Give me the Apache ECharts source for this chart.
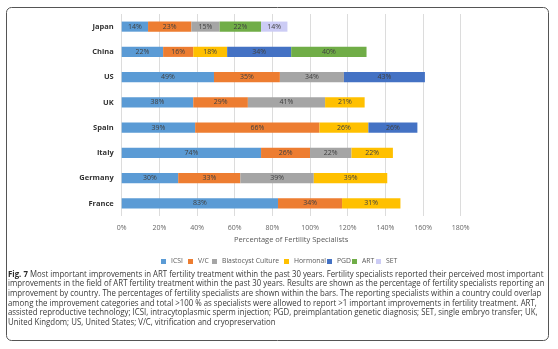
<!DOCTYPE html>
<html><head><meta charset="utf-8">
<script src="https://cdn.jsdelivr.net/npm/echarts@6/dist/echarts.min.js"></script>
<style>html,body{margin:0;padding:0;background:#fff}#c{width:558px;height:349px}</style>
</head><body><div id="c"></div>
<script>
const countries = ['France','Germany','Italy','Spain','UK','US','China','Japan'];
const seriesNames = ['ICSI','V/C','Blastocyst Culture','Hormonal','PGD','ART','SET'];
const icsi      = [83, 30, 74, 39, 38, 49, 22, 14];
const vc        = [34, 33, 26, 66, 29, 35, 16, 23];
const blasto    = [null, 39, 22, null, 41, 34, null, 15];
const hormonal  = [31, 39, 22, 26, 21, null, 18, null];
const pgd       = [null, null, null, 26, null, 43, 34, null];
const art       = [null, null, null, null, null, null, 40, 22];
const set       = [null, null, null, null, null, null, null, 14];
const xTicks = [0, 20, 40, 60, 80, 100, 120, 140, 160, 180];
const captionLines = [
 'improvements in the field of ART fertility treatment within the past 30 years. Results are shown as the percentage of fertility specialists reporting an',
 'improvement by country. The percentages of fertility specialists are shown within the bars. The reporting specialists within a country could overlap',
 'among the improvement categories and total >100 % as specialists were allowed to report >1 important improvements in fertility treatment. ART,',
 'assisted reproductive technology; ICSI, intracytoplasmic sperm injection; PGD, preimplantation genetic diagnosis; SET, single embryo transfer; UK,',
 'United Kingdom; US, United States; V/C, vitrification and cryopreservation'
];
const captionFirst = ' Most important improvements in ART fertility treatment within the past 30 years. Fertility specialists reported their perceived most important';

const colors = ['#5B9BD5','#ED7D31','#A5A5A5','#FFC000','#4472C4','#70AD47','#CCCCF5'];
const dataArr = [icsi, vc, blasto, hormonal, pgd, art, set];
const font = 'Open Sans';

const chart = echarts.init(document.getElementById('c'), null, {renderer:'canvas'});
const series = seriesNames.map((n,i)=>({
  name:n, type:'bar', stack:'t', barWidth:'40%',
  itemStyle:{color:colors[i]},
  label:{show:true, position:'inside', fontSize:7, fontFamily:font, color:'#404040',
    formatter:p=>p.value==null?'':p.value+'%'},
  data:dataArr[i]
}));
const capY0 = 274.5;
const lh = 9.6;
const sx = 0.957;
const graphic = [
  {type:'rect', shape:{x:6.5,y:7.5,width:542,height:333,r:5}, style:{fill:'none',stroke:'#555',lineWidth:1}, z:-1},
  {type:'text', x:8, y:capY0, scaleX:sx, style:{text:'{b|Fig. 7}'+captionFirst, font:'8.2px "'+font+'"', fill:'#3a3a3a', verticalAlign:'middle',
     rich:{b:{fontWeight:'bold', fontSize:8.2, fontFamily:font, fill:'#2a2a2a'}}}}
];
captionLines.forEach((t,i)=>graphic.push({type:'text', x:8, y:capY0+lh*(i+1), scaleX:sx, style:{text:t, font:'8.2px "'+font+'"', fill:'#3a3a3a', verticalAlign:'middle'}}));

const legendLeft = [161, 188, 212, 284, 327, 352, 376];
const legends = seriesNames.map((n,i)=>({
  data:[n], left:legendLeft[i], top:258, itemWidth:5, itemHeight:5, icon:'rect', padding:0,
  textStyle:{fontSize:6.8, fontFamily:font, color:'#595959'}
}));

chart.setOption({
  animation:false,
  textStyle:{fontFamily:font},
  grid:{left:121.7, right:97.3, top:14, bottom:133, containLabel:false},
  xAxis:{type:'value', min:0, max:180, interval:20,
    axisLabel:{formatter:v=>v+'%', fontSize:7, color:'#666', margin:8},
    splitLine:{lineStyle:{color:'#dcdcdc'}},
    axisLine:{show:false}, axisTick:{show:false},
    name:'Percentage of Fertility Specialists', nameLocation:'middle', nameGap:20,
    nameTextStyle:{fontSize:7.5, color:'#595959'}},
  yAxis:{type:'category', data:countries,
    axisLine:{show:false}, axisTick:{show:false},
    axisLabel:{fontSize:7.5, fontWeight:'bold', color:'#333', margin:8}},
  legend:legends,
  graphic:graphic,
  series:series
});
</script></body></html>
